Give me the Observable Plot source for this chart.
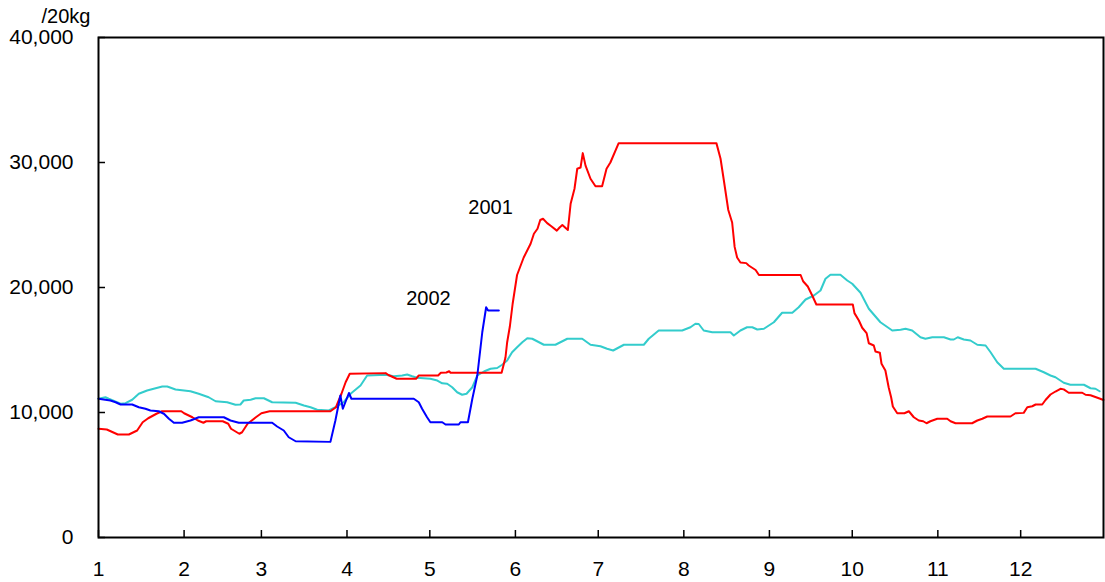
<!DOCTYPE html>
<html>
<head>
<meta charset="utf-8">
<script src="https://cdn.jsdelivr.net/npm/d3@7"></script>
<script src="https://cdn.jsdelivr.net/npm/@observablehq/plot@0.6"></script>
<style>
  html, body { margin: 0; padding: 0; background: #fff; }
</style>
</head>
<body>
<div id="chart"></div>
<script>
// x = day of year, y = price (yen / 20kg)
const monthStarts = [1, 32, 60, 91, 121, 152, 182, 213, 244, 274, 305, 335];
const monthLabels = ["1", "2", "3", "4", "5", "6", "7", "8", "9", "10", "11", "12"];
const yTicks = [0, 10000, 20000, 30000, 40000];
const unitLabel = "/20kg";

const series2001 = [
  [1,8700],[4,8640],[8,8240],[12,8240],[15,8560],[17,9220],[19,9540],[22,9900],[24,10100],[31,10100],
  [32,9940],[35,9620],[37,9360],[39,9180],[40,9300],[46,9300],[48,9100],[49,8700],[52,8300],[53,8420],
  [55,9100],[58,9620],[60,9940],[63,10100],[85,10100],[87,10420],[89,11500],[90.5,12420],[92,13100],
  [105,13150],[106,13000],[109,12700],[116,12700],[117,12960],[124,12960],[125,13180],[127,13200],
  [128,13300],[128.5,13180],[147,13180],[148.4,14400],[149,15600],[150,16900],[151,18700],[152.6,21000],
  [155,22400],[157.5,23500],[158.7,24300],[160,24700],[161,25400],[162,25500],[163.5,25150],[165,24900],
  [167,24550],[168,24800],[169,25000],[171,24600],[172,26700],[173.4,27900],[174.4,29500],[175.6,29600],
  [176.4,30750],[177.4,29750],[179.2,28700],[181,28100],[183.4,28100],[185,29500],[186.4,30000],
  [189.4,31550],[224.8,31550],[226.3,30300],[227.5,28560],[229.1,26200],[230.5,25200],[231.4,23250],
  [232.3,22400],[233.5,22000],[235.6,21950],[236.5,21760],[239,21400],[240.2,21000],[255.3,21000],
  [256.2,20500],[257.9,20080],[259.5,19360],[261,18640],[274.2,18640],[274.8,17950],[276.4,17360],
  [277.6,16780],[279.2,16350],[280,15540],[281.8,15360],[282.4,14880],[284,14780],[284.6,13900],
  [286,13360],[287.2,12000],[288.1,11200],[288.7,10480],[290.3,9940],[292.9,9940],[294.5,10100],
  [296.3,9620],[298.1,9360],[299.7,9300],[300.9,9140],[302.3,9300],[304.8,9500],[308.4,9500],
  [309.6,9300],[311.4,9140],[317.4,9140],[319.3,9360],[321.1,9500],[322.9,9680],[331.3,9680],
  [333.1,9940],[336.1,9970],[337.4,10420],[339.2,10500],[340.4,10640],[342.8,10640],[344,11000],
  [345.8,11440],[347.6,11680],[349.4,11900],[350.6,11850],[352.4,11580],[357.3,11580],[358.5,11420],
  [360.3,11380],[363.3,11140],[365,11000]
];

const series2002 = [
  [1,11100],[5.3,10960],[7.2,10820],[9,10640],[13.2,10640],[15.6,10420],[18,10300],[19.8,10160],
  [22.8,10100],[24.7,9900],[26.5,9500],[28.3,9180],[31.3,9180],[34.3,9360],[37.3,9620],[46.4,9620],
  [48.8,9360],[51.8,9180],[63.9,9180],[65.7,8880],[68.1,8560],[69.9,8020],[72.4,7700],[85,7650],
  [86.8,9360],[88.6,11360],[89.5,10300],[91.7,11560],[92.6,11100],[115.2,11100],[117,10820],
  [118.2,10300],[120,9620],[121.2,9220],[125.5,9220],[126.7,9040],[131.5,9040],[132.1,9220],
  [134.8,9220],[136.4,11100],[138.2,12960],[140,16420],[141.4,18420],[142.1,18160],[146,18160]
];

const seriesAverage = [
  [1,11100],[3.5,11220],[4.7,11100],[9,10700],[10.8,10750],[13.2,11020],[15.6,11500],[18.6,11760],
  [21,11900],[24.1,12080],[25.9,12080],[28.9,11840],[34.3,11700],[37.3,11500],[40.9,11220],[43.4,10900],
  [47.6,10820],[50.6,10620],[52.4,10640],[53.6,10960],[56.1,11020],[57.9,11140],[60.9,11140],
  [63.9,10820],[72.4,10780],[75.4,10560],[77.8,10420],[80.2,10220],[84.4,10160],[86.8,10420],
  [89.8,10820],[92.3,11500],[95.9,12160],[98.3,12960],[105,13020],[108,12900],[111,12960],
  [112.8,13040],[114.6,12900],[116.4,12780],[121.2,12700],[123.7,12560],[125.5,12340],[127.3,12300],
  [129.1,12020],[130.9,11620],[132.7,11420],[134.3,11500],[136.4,12020],[138.2,12960],[140.6,13280],
  [143,13500],[145.4,13560],[147.2,13820],[149,14160],[150.8,14820],[152.6,15220],[154.5,15620],
  [156.3,15940],[158.1,15900],[162.3,15420],[166.5,15420],[170.8,15900],[176.2,15900],[179.2,15420],
  [182.8,15300],[185.2,15100],[187.4,14960],[191.3,15420],[198.5,15420],[200.3,15900],[203.9,16560],
  [212.4,16560],[215.4,16820],[217.2,17100],[218.4,17080],[220.2,16560],[223.3,16420],[229.9,16420],
  [231.1,16160],[233.5,16560],[235.9,16820],[237.8,16820],[239.6,16640],[242,16700],[245.6,17220],
  [248.6,17980],[252.3,17980],[254.6,18420],[257.1,19040],[260.1,19360],[262.5,19760],[264.3,20700],
  [266.1,21020],[269.7,21020],[272.2,20560],[274,20300],[277,19580],[280,18300],[284.2,17220],
  [288.5,16560],[291.5,16620],[293.3,16700],[295.7,16560],[298.7,16020],[300.5,15900],[303,16020],
  [307.2,16020],[309.6,15840],[310.8,15840],[312.2,16020],[314.4,15840],[316.8,15760],[319.3,15420],
  [322.3,15360],[324.1,14820],[326.5,14020],[328.9,13500],[340.4,13500],[343.4,13220],[345.8,12960],
  [347.6,12820],[350.6,12380],[353,12220],[357.9,12220],[360.3,11940],[362.1,11900],[363.6,11700]
];

const seriesLabels = [
  {day: 143, value: 26400, text: "2001"},
  {day: 120.5, value: 19120, text: "2002"}
];

const fmt = d3.format(",");
const chart = Plot.plot({
  width: 1105,
  height: 582,
  marginLeft: 98,
  marginRight: 2,
  marginTop: 37,
  marginBottom: 45,
  style: {
    fontFamily: "'Liberation Sans', Arial, sans-serif",
    fontSize: "21px",
    color: "#000",
    background: "#fff",
    overflow: "visible"
  },
  x: {domain: [1, 365]},
  y: {domain: [0, 40000]},
  marks: [
    Plot.line(seriesAverage, {x: d => d[0], y: d => d[1], stroke: "#33cccc", strokeWidth: 2}),
    Plot.line(series2001, {x: d => d[0], y: d => d[1], stroke: "#ff0000", strokeWidth: 2}),
    Plot.line(series2002, {x: d => d[0], y: d => d[1], stroke: "#0000ff", strokeWidth: 2}),
    Plot.axisX(monthStarts, {
      tickSize: -7, tickPadding: 31, strokeWidth: 1.5,
      tickFormat: d => monthLabels[monthStarts.indexOf(d)],
      label: null
    }),
    Plot.axisY(yTicks, {
      tickSize: -7, tickPadding: 32, strokeWidth: 1.5,
      tickFormat: fmt,
      label: null
    }),
    Plot.frame({stroke: "#000", strokeWidth: 2}),
    Plot.text(seriesLabels, {x: "day", y: "value", text: "text", fill: "#000", fontSize: 20}),
    Plot.text([unitLabel], {frameAnchor: "top-left", text: d => d, textAnchor: "end", lineAnchor: "middle", dx: -8, dy: -21, fill: "#000", fontSize: 20})
  ]
});
document.getElementById("chart").appendChild(chart);
</script>
</body>
</html>
